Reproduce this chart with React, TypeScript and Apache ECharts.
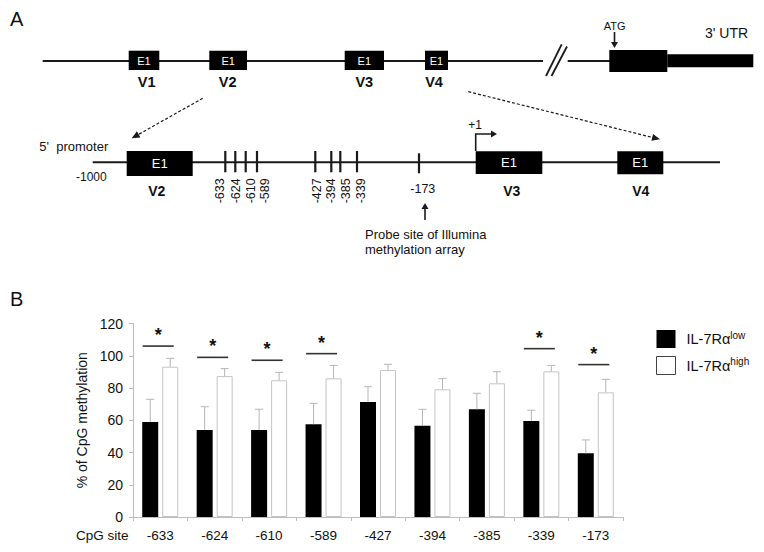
import React, { useEffect, useRef } from 'react';
import * as echarts from 'echarts';

// ---------- data ----------
const categories = ['-633', '-624', '-610', '-589', '-427', '-394', '-385', '-339', '-173'];
const seriesNames = ['IL-7Rα low', 'IL-7Rα high'];
const lowMeans = [58.9, 54.0, 54.0, 57.5, 71.3, 56.6, 66.8, 59.5, 39.5];
const lowErrs = [14.1, 14.4, 12.8, 13.0, 9.5, 10.2, 9.9, 6.7, 8.3];
const highMeans = [93.2, 87.4, 84.8, 86.0, 91.2, 79.2, 82.9, 90.3, 77.3];
const highErrs = [5.2, 4.6, 4.9, 8.0, 3.5, 6.6, 7.2, 3.7, 8.1];
const sigIndex = [0, 1, 2, 3, 7, 8];
const sigLevel = [106, 99, 97.2, 101.3, 104.4, 94.5];
const yMin = 0;
const yMax = 120;
const yInterval = 20;
const cpgSiteLabels = ['-633', '-624', '-610', '-589', '-427', '-394', '-385', '-339'];

const FONT = '"Liberation Sans", Arial, sans-serif';
const DARK = '#1a1a1a';

// ---------- helpers for diagram ----------
function arrowHead(x1: number, y1: number, x2: number, y2: number, len = 8, half = 3.5) {
  const dx = x2 - x1, dy = y2 - y1;
  const L = Math.sqrt(dx * dx + dy * dy);
  const ux = dx / L, uy = dy / L;
  const bx = x2 - ux * len, by = y2 - uy * len;
  const nx = uy, ny = -ux;
  return {
    type: 'polygon',
    shape: { points: [[x2, y2], [bx + nx * half, by + ny * half], [bx - nx * half, by - ny * half]] },
    style: { fill: DARK },
  };
}
function seg(x1: number, y1: number, x2: number, y2: number, w = 2, dash?: number[]) {
  return {
    type: 'line',
    shape: { x1, y1, x2, y2 },
    style: { stroke: DARK, lineWidth: w, lineDash: dash },
  };
}
function txt(text: string, x: number, y: number, size: number, opts: any = {}) {
  return {
    type: 'text',
    x,
    y,
    rotation: opts.rotation || 0,
    style: {
      text,
      fontSize: size,
      fontFamily: FONT,
      fontWeight: opts.bold ? 'bold' : 'normal',
      fill: opts.fill || '#111',
      align: opts.align || 'center',
      verticalAlign: opts.va || 'middle',
    },
  };
}
function box(x: number, y: number, w: number, h: number) {
  return { type: 'rect', shape: { x, y, width: w, height: h }, style: { fill: '#000' } };
}

function buildDiagram() {
  const els: any[] = [];
  // panel labels
  els.push(txt('A', 10, 19, 20, { align: 'left' }));
  els.push(txt('B', 10, 299, 20, { align: 'left' }));

  // ---- top gene line ----
  els.push(seg(42.7, 61, 543, 61, 2));
  els.push(seg(567.7, 61, 610, 61, 2));
  els.push(seg(546, 76, 561.7, 44.3, 1.8));
  els.push(seg(551.5, 76, 567, 46.5, 1.8));
  const topExons = [
    { x: 128.7, w: 30.6, label: 'V1', lx: 146.7 },
    { x: 209.3, w: 37.7, label: 'V2', lx: 227.7 },
    { x: 344.7, w: 39.3, label: 'V3', lx: 364.3 },
    { x: 425, w: 23, label: 'V4', lx: 434 },
  ];
  topExons.forEach((e) => {
    els.push(box(e.x, 50.7, e.w, 19.3));
    els.push(txt('E1', e.x + e.w / 2, 60.5, 11, { fill: '#fff' }));
    els.push(txt(e.label, e.lx, 82, 14.5, { bold: true }));
  });
  els.push(box(609.3, 50, 58, 22));
  els.push(box(667.3, 54.3, 86, 13));
  els.push(txt('ATG', 614.7, 26, 11));
  els.push(seg(614.5, 32, 614.5, 43, 1.6));
  els.push(arrowHead(614.5, 32, 614.5, 48, 6, 3.5));
  els.push(txt("3' UTR", 705, 32.5, 14, { align: 'left' }));

  // dashed zoom lines
  els.push(seg(202.7, 98.3, 137.5, 135, 1.2, [3, 2]));
  els.push(arrowHead(202.7, 98.3, 131.7, 138.3, 8, 3.5));
  els.push(seg(468.3, 91.7, 653.5, 137.7, 1.2, [3, 2]));
  els.push(arrowHead(468.3, 91.7, 660, 139.3, 8, 3.5));

  // ---- promoter line ----
  els.push(seg(92.7, 162.3, 720, 162.3, 2));
  els.push(txt("5'  promoter", 39.3, 146, 13, { align: 'left' }));
  els.push(txt('-1000', 76, 177, 12, { align: 'left' }));
  const botExons = [
    { x: 126.7, y: 151, w: 66, h: 25, label: 'V2', lx: 156.7 },
    { x: 475.7, y: 151.3, w: 66.6, h: 22.7, label: 'V3', lx: 511.7 },
    { x: 617.3, y: 151.3, w: 46, h: 23, label: 'V4', lx: 640.7 },
  ];
  botExons.forEach((e) => {
    els.push(box(e.x, e.y, e.w, e.h));
    els.push(txt('E1', e.x + e.w / 2, e.y + e.h / 2, 13, { fill: '#fff' }));
    els.push(txt(e.label, e.lx, 190.5, 14, { bold: true }));
  });
  const tickX = [225.3, 235.3, 245.7, 257, 315.3, 331.3, 340.3, 357];
  const labX = [220, 235.6, 250.6, 265.4, 316.7, 331.2, 345.8, 361];
  tickX.forEach((x) => els.push(seg(x, 151, x, 172.3, 2.2)));
  cpgSiteLabels.forEach((l, i) =>
    els.push(txt(l, labX[i], 178.3, 12.5, { rotation: Math.PI / 2, align: 'right' }))
  );
  els.push(seg(419, 153.3, 419, 173.3, 2.2));
  els.push(txt('-173', 422.8, 188.5, 12.5));
  els.push(seg(425, 220, 425, 208, 1.6));
  els.push(arrowHead(425, 220, 425, 203, 6, 3.5));
  els.push(txt('Probe site of Illumina', 365, 234, 13, { align: 'left' }));
  els.push(txt('methylation array', 365, 249.5, 13, { align: 'left' }));
  // +1 transcription start
  els.push({
    type: 'polyline',
    shape: { points: [[475.7, 151], [475.7, 134], [492, 134]] },
    style: { stroke: DARK, lineWidth: 1.6, fill: null },
  });
  els.push(arrowHead(475.7, 134, 497, 134, 6, 3.5));
  els.push(txt('+1', 475, 125, 12));

  // x-axis title of panel B
  els.push(txt('CpG site', 76, 535, 13.5, { align: 'left' }));
  return els;
}

function errorRender(offset: number) {
  return (params: any, api: any) => {
    const i = api.value(0);
    const m = api.value(1);
    const e = api.value(2);
    const base = api.coord([i, m]);
    const top = api.coord([i, m + e]);
    const x = base[0] + offset;
    const st = { stroke: '#b5b5b5', lineWidth: 1 };
    return {
      type: 'group',
      children: [
        { type: 'line', shape: { x1: x, y1: base[1], x2: x, y2: top[1] }, style: st },
        { type: 'line', shape: { x1: x - 4, y1: top[1], x2: x + 4, y2: top[1] }, style: st },
      ],
    };
  };
}

function sigRender(params: any, api: any) {
  const p = api.coord([api.value(0), api.value(1)]);
  return {
    type: 'group',
    children: [
      {
        type: 'line',
        shape: { x1: p[0] - 17.5, y1: p[1], x2: p[0] + 13.5, y2: p[1] },
        style: { stroke: '#333', lineWidth: 1.6 },
      },
      {
        type: 'text',
        x: p[0] - 2,
        y: p[1] - 20,
        style: {
          text: '*',
          fontSize: 18,
          fontFamily: FONT,
          fontWeight: 'bold',
          fill: '#111',
          align: 'center',
          verticalAlign: 'top',
        },
      },
    ],
  };
}

export default function App() {
  const ref = useRef<HTMLDivElement>(null);
  useEffect(() => {
    document.body.style.margin = '0';
    const chart = echarts.init(ref.current!, undefined, { renderer: 'svg' });
    const option: any = {
      animation: false,
      backgroundColor: '#fff',
      textStyle: { fontFamily: FONT },
      grid: { left: 133, right: 141, top: 323.5, bottom: 35, containLabel: false },
      legend: {
        orient: 'vertical',
        left: 651,
        top: 325,
        itemWidth: 19,
        itemHeight: 18,
        itemGap: 8,
        icon: 'rect',
        data: [
          { name: seriesNames[0], itemStyle: { color: '#000', borderWidth: 0 } },
          { name: seriesNames[1], itemStyle: { color: '#fff', borderColor: '#444', borderWidth: 1 } },
        ],
        formatter: (n: string) => {
          const parts = n.split(' ');
          return `{m|${parts[0]}}{s|${parts[1]}}`;
        },
        textStyle: {
          rich: {
            m: { fontSize: 14.5, fontFamily: FONT, color: '#111', lineHeight: 18, padding: [0, 0, 0, 6] },
            s: { fontSize: 10, fontFamily: FONT, color: '#111', lineHeight: 12, verticalAlign: 'top' },
          },
        },
      },
      xAxis: {
        type: 'category',
        data: categories,
        axisLine: { lineStyle: { color: '#bdbdbd', width: 1 } },
        axisTick: { show: true, length: 4, lineStyle: { color: '#bdbdbd' } },
        axisLabel: { fontSize: 13.5, color: '#111', margin: 11, fontFamily: FONT },
      },
      yAxis: {
        type: 'value',
        min: yMin,
        max: yMax,
        interval: yInterval,
        name: '% of CpG methylation',
        nameLocation: 'middle',
        nameGap: 44,
        nameTextStyle: { fontSize: 14, color: '#111', fontFamily: FONT },
        axisLine: { show: true, lineStyle: { color: '#bdbdbd', width: 1 } },
        axisTick: { show: true, length: 4, lineStyle: { color: '#bdbdbd' } },
        splitLine: { show: false },
        axisLabel: { fontSize: 14, color: '#111', margin: 10, fontFamily: FONT },
      },
      series: [
        {
          name: seriesNames[0],
          type: 'bar',
          data: lowMeans,
          barWidth: 16,
          barGap: '25%',
          itemStyle: { color: '#000' },
        },
        {
          name: seriesNames[1],
          type: 'bar',
          data: highMeans,
          barWidth: 16,
          barGap: '25%',
          itemStyle: { color: '#fff', borderColor: '#c4c4c4', borderWidth: 1 },
        },
        {
          type: 'custom',
          renderItem: errorRender(-10),
          data: lowMeans.map((m, i) => [i, m, lowErrs[i]]),
          encode: { x: 0, y: 1 },
          z: 3,
        },
        {
          type: 'custom',
          renderItem: errorRender(10),
          data: highMeans.map((m, i) => [i, m, highErrs[i]]),
          encode: { x: 0, y: 1 },
          z: 3,
        },
        {
          type: 'custom',
          renderItem: sigRender,
          data: sigIndex.map((ci, k) => [ci, sigLevel[k]]),
          encode: { x: 0, y: 1 },
          z: 4,
        },
      ],
      graphic: { elements: buildDiagram() },
    };
    chart.setOption(option);
    return () => chart.dispose();
  }, []);
  return (
    <div
      ref={ref}
      style={{ position: 'fixed', left: 0, top: 0, width: 764, height: 552, background: '#fff' }}
    />
  );
}
